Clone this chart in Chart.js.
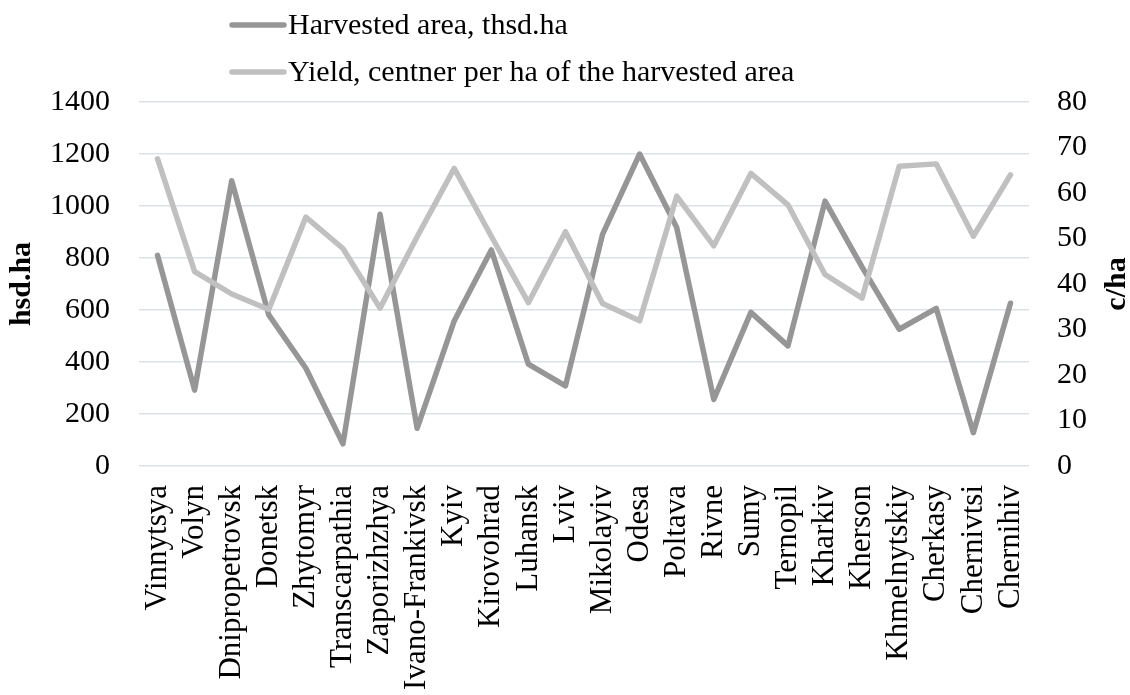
<!DOCTYPE html>
<html>
<head>
<meta charset="utf-8">
<script src="https://cdn.jsdelivr.net/npm/chart.js@4"></script>
<style>
  html, body { margin: 0; padding: 0; background: #ffffff; }
  #wrap { width: 1130px; height: 695px; }
</style>
</head>
<body>
<div id="wrap"><canvas id="chart" width="1130" height="695"></canvas></div>
<script>
// Regions of Ukraine
const regions = [
  'Vinnytsya', 'Volyn', 'Dnipropetrovsk', 'Donetsk', 'Zhytomyr', 'Transcarpathia',
  'Zaporizhzhya', 'Ivano-Frankivsk', 'Kyiv', 'Kirovohrad', 'Luhansk', 'Lviv',
  'Mikolayiv', 'Odesa', 'Poltava', 'Rivne', 'Sumy', 'Ternopil', 'Kharkiv',
  'Kherson', 'Khmelnytskiy', 'Cherkasy', 'Chernivtsi', 'Chernihiv'
];

// Harvested area, thousand ha (left axis)
const harvestedArea = [
  810, 292, 1097, 581, 376, 85, 968, 145, 558, 831, 392, 308,
  891, 1200, 917, 256, 591, 462, 1019, 765, 526, 606, 128, 626
];

// Yield, centner per ha (right axis)
const yieldPerHa = [
  67.5, 42.7, 37.8, 34.4, 54.7, 47.8, 34.7, 50.4, 65.4, 50.5, 35.9, 51.5,
  35.7, 31.9, 59.3, 48.4, 64.3, 57.4, 42.1, 36.9, 65.9, 66.4, 50.5, 64.0
];

const seriesNames = ['Harvested area, thsd.ha', 'Yield, centner per ha of the harvested area'];
const leftTitle = 'hsd.ha';
const rightTitle = 'c/ha';

const FONT = '"Liberation Serif", "Times New Roman", serif';
const DARK = '#969696';
const LIGHT = '#c0c0c0';
const GRID = '#dde1e8';
const LINE_W = 5.5;

// Two-row legend anchored at the left, plus the vertical axis titles
const decorations = {
  id: 'decorations',
  afterDraw(chart) {
    const ctx = chart.ctx;
    ctx.save();
    const rows = [25, 72];
    chart.data.datasets.forEach((ds, i) => {
      const y = rows[i];
      ctx.strokeStyle = ds.borderColor;
      ctx.lineWidth = LINE_W;
      ctx.lineCap = 'round';
      ctx.beginPath();
      ctx.moveTo(232, y);
      ctx.lineTo(284, y);
      ctx.stroke();
      ctx.fillStyle = '#000000';
      ctx.font = '30px ' + FONT;
      ctx.textAlign = 'left';
      ctx.textBaseline = 'middle';
      ctx.fillText(ds.label, 288, y + 1);
    });

    const midY = (chart.chartArea.top + chart.chartArea.bottom) / 2;
    ctx.font = 'bold 30px ' + FONT;
    ctx.fillStyle = '#000000';
    ctx.textAlign = 'center';
    ctx.textBaseline = 'middle';
    [[22, leftTitle], [1117, rightTitle]].forEach(([x, text]) => {
      ctx.save();
      ctx.translate(x, midY);
      ctx.rotate(-Math.PI / 2);
      ctx.fillText(text, 0, 0);
      ctx.restore();
    });
    ctx.restore();
  }
};

const plainNumber = (v) => String(v);

new Chart(document.getElementById('chart'), {
  type: 'line',
  data: {
    labels: regions,
    datasets: [
      {
        label: seriesNames[0],
        data: harvestedArea,
        yAxisID: 'y',
        borderColor: DARK,
        backgroundColor: DARK,
        borderWidth: LINE_W,
        borderCapStyle: 'round',
        borderJoinStyle: 'round',
        pointRadius: 0,
        tension: 0,
        order: 1
      },
      {
        label: seriesNames[1],
        data: yieldPerHa,
        yAxisID: 'y1',
        borderColor: LIGHT,
        backgroundColor: LIGHT,
        borderWidth: LINE_W,
        borderCapStyle: 'round',
        borderJoinStyle: 'round',
        pointRadius: 0,
        tension: 0,
        order: 0
      }
    ]
  },
  options: {
    responsive: false,
    animation: false,
    devicePixelRatio: 1,
    layout: { padding: { top: 102, left: 0, right: 0, bottom: 0 } },
    plugins: {
      legend: { display: false },
      tooltip: { enabled: false }
    },
    scales: {
      x: {
        offset: true,
        grid: { display: false, drawTicks: false },
        border: { display: false },
        ticks: {
          autoSkip: false,
          minRotation: 90,
          maxRotation: 90,
          padding: 19,
          color: '#000000',
          font: { family: FONT, size: 31 }
        },
        afterFit(scale) { scale.height = 229; }
      },
      y: {
        position: 'left',
        min: 0,
        max: 1400,
        grid: { color: GRID, lineWidth: 1.5, drawTicks: false },
        border: { display: false },
        ticks: {
          stepSize: 200,
          padding: 29,
          color: '#000000',
          font: { family: FONT, size: 30 },
          callback: plainNumber
        },
        afterFit(scale) { scale.width = 139; }
      },
      y1: {
        position: 'right',
        min: 0,
        max: 80,
        grid: { display: false, drawTicks: false },
        border: { display: false },
        ticks: {
          stepSize: 10,
          padding: 28,
          color: '#000000',
          font: { family: FONT, size: 30 },
          callback: plainNumber
        },
        afterFit(scale) { scale.width = 101; }
      }
    }
  },
  plugins: [decorations]
});
</script>
</body>
</html>
